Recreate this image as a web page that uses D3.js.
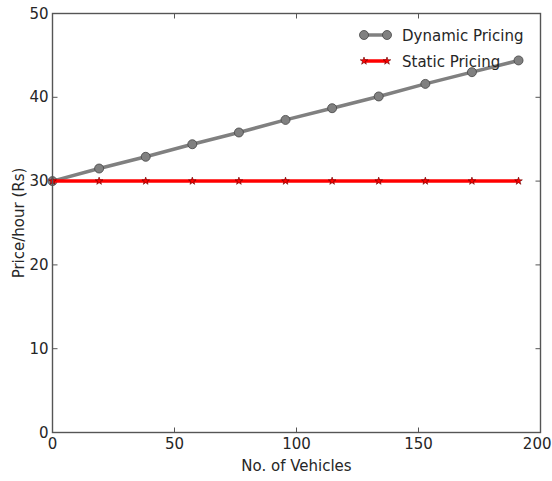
<!DOCTYPE html>
<html><head><meta charset="utf-8">
<script src="https://cdn.jsdelivr.net/npm/d3@7"></script>
<style>body{margin:0;background:#fff;}svg{display:block;font-family:"DejaVu Sans",sans-serif;}</style>
</head><body>
<script>
const vehicles = [0, 19.1, 38.2, 57.3, 76.4, 95.5, 114.6, 133.7, 152.8, 171.9, 191];
const dynamicPrice = [30, 31.5, 32.9, 34.4, 35.8, 37.3, 38.7, 40.1, 41.6, 43.0, 44.4];
const staticPrice = [30, 30, 30, 30, 30, 30, 30, 30, 30, 30, 30];
const xTicks = [0, 50, 100, 150, 200];
const yTicks = [0, 10, 20, 30, 40, 50];
const seriesNames = ["Dynamic Pricing", "Static Pricing"];

const W = 552, H = 481;
const m = {l: 52.5, r: 11.5, t: 13.5, b: 48.5};
const fs = 15;
const svg = d3.select("body").append("svg").attr("width", W).attr("height", H);
const x = d3.scaleLinear().domain([0, 200]).range([m.l, W - m.r]);
const y = d3.scaleLinear().domain([0, 50]).range([H - m.b, m.t]);
const axisCol = "#555";
const txtCol = "#262626";

// ticks inside on all sides
const g = svg.append("g");
const tl = 5;
xTicks.forEach(t => {
  g.append("line").attr("x1", x(t)).attr("x2", x(t)).attr("y1", y(0)).attr("y2", y(0) - tl).attr("stroke", axisCol);
  g.append("line").attr("x1", x(t)).attr("x2", x(t)).attr("y1", y(50)).attr("y2", y(50) + tl).attr("stroke", axisCol);
  const lab = g.append("text").attr("x", x(t)).attr("y", y(0) + 16.5).attr("text-anchor", "middle").attr("font-size", fs).attr("fill", txtCol).text(t);
  const bb = lab.node().getBBox();
  if (bb.x + bb.width > W - 0.5) lab.attr("x", x(t) - (bb.x + bb.width - (W - 0.5)));
});
yTicks.forEach(t => {
  g.append("line").attr("x1", x(0)).attr("x2", x(0) + tl).attr("y1", y(t)).attr("y2", y(t)).attr("stroke", axisCol);
  g.append("line").attr("x1", x(200)).attr("x2", x(200) - tl).attr("y1", y(t)).attr("y2", y(t)).attr("stroke", axisCol);
  g.append("text").attr("x", x(0) - 4).attr("y", y(t) + 5).attr("text-anchor", "end").attr("font-size", fs).attr("fill", txtCol).text(t);
});

const line = d3.line().x((d, i) => x(vehicles[i])).y(d => y(d));
const star = d3.symbol().type(d3.symbolStar).size(18);

svg.append("path").datum(dynamicPrice).attr("d", line).attr("fill", "none").attr("stroke", "#808080").attr("stroke-width", 3.5);
svg.selectAll(".dc").data(dynamicPrice).enter().append("circle")
  .attr("cx", (d, i) => x(vehicles[i])).attr("cy", d => y(d)).attr("r", 4.5)
  .attr("fill", "#808080").attr("stroke", "#444").attr("stroke-width", 0.8);

svg.append("path").datum(staticPrice).attr("d", line).attr("fill", "none").attr("stroke", "#ff0000").attr("stroke-width", 3.5);
svg.selectAll(".st").data(staticPrice).enter().append("path")
  .attr("transform", (d, i) => `translate(${x(vehicles[i])},${y(d)})`)
  .attr("d", star).attr("fill", "#ff0000").attr("stroke", "#600").attr("stroke-width", 0.6);

// frame
svg.append("rect").attr("x", x(0)).attr("y", y(50)).attr("width", x(200) - x(0)).attr("height", y(0) - y(50))
  .attr("fill", "none").attr("stroke", axisCol).attr("stroke-width", 1.4);

// labels
svg.append("text").attr("x", (x(0) + x(200)) / 2).attr("y", 471).attr("text-anchor", "middle").attr("font-size", fs).attr("fill", txtCol).text("No. of Vehicles");
svg.append("text").attr("transform", `translate(24,${(y(0) + y(50)) / 2}) rotate(-90)`).attr("text-anchor", "middle").attr("font-size", fs).attr("fill", txtCol).text("Price/hour (Rs)");

// legend
const lg = svg.append("g");
const lx1 = 364, lx2 = 387, tx = 402;
[[35, "#808080", "c"], [61, "#ff0000", "s"]].forEach(([ly, col, mk], i) => {
  lg.append("line").attr("x1", lx1).attr("x2", lx2).attr("y1", ly).attr("y2", ly).attr("stroke", col).attr("stroke-width", 3.5);
  [lx1, lx2].forEach(px => {
    if (mk === "c") lg.append("circle").attr("cx", px).attr("cy", ly).attr("r", 4.5).attr("fill", "#808080").attr("stroke", "#444").attr("stroke-width", 0.8);
    else lg.append("path").attr("transform", `translate(${px},${ly})`).attr("d", star).attr("fill", "#ff0000").attr("stroke", "#600").attr("stroke-width", 0.6);
  });
  lg.append("text").attr("x", tx).attr("y", ly + 5.5).attr("font-size", fs).attr("fill", txtCol).text(seriesNames[i]);
});
</script>
</body></html>
